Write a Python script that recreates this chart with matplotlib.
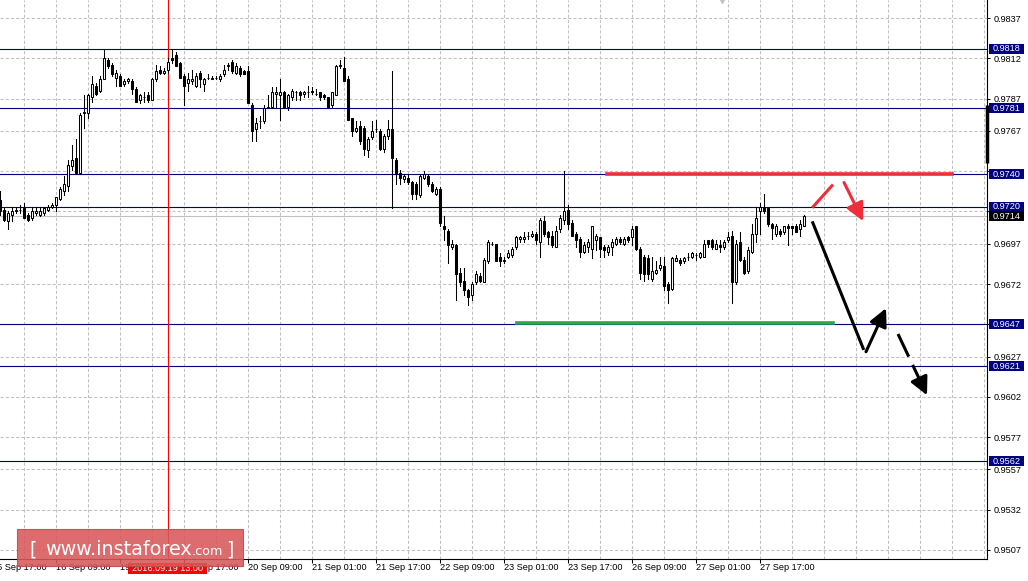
import matplotlib
matplotlib.use("Agg")
import matplotlib.pyplot as plt
from matplotlib.patches import Rectangle
from matplotlib.transforms import blended_transform_factory

plt.rcParams['font.family'] = ['Liberation Sans', 'DejaVu Sans']

# hourly candles (bar 0 = left edge)
opens = [.9724, .9718, .9711, .9715, .9717, .9718, .9719, .9715, .9713, .9716,
         .9715, .9716, .9718, .9720, .9721, .9725, .9730, .9733, .9745, .9750,
         .9741, .9778, .9778, .9788, .9795, .9792, .9799, .9811, .9808, .9800,
         .9801, .9796, .9798, .9798, .9793, .9786, .9788, .9789, .9786, .9799,
         .9805, .9803, .9805, .9812, .9814, .9809, .9801, .9797, .9798, .9795,
         .9803, .9796, .9800, .9799, .9800, .9799, .9802, .9807, .9810, .9803,
         .9806, .9804, .9804, .9783, .9768, .9773, .9773, .9781, .9782, .9790,
         .9789, .9791, .9782, .9788, .9791, .9791, .9790, .9791, .9792, .9790,
         .9791, .9789, .9788, .9783, .9789, .9807, .9806, .9799, .9775, .9767,
         .9770, .9769, .9755, .9763, .9768, .9767, .9756, .9764, .9768, .9749,
         .9741, .9737, .9738, .9735, .9734, .9727, .9738, .9739, .9734, .9728,
         .9731, .9708, .9705, .9695, .9696, .9679, .9674, .9668, .9665, .9673,
         .9677, .9673, .9686, .9697, .9697, .9689, .9686, .9689, .9690, .9695,
         .9700, .9700, .9702, .9702, .9703, .9698, .9711, .9704, .9702, .9695,
         .9706, .9712, .9718, .9710, .9703, .9700, .9692, .9695, .9694, .9699,
         .9701, .9695, .9692, .9695, .9697, .9700, .9697, .9701, .9701, .9708,
         .9694, .9689, .9688, .9675, .9679, .9682, .9683, .9672, .9669, .9686,
         .9687, .9686, .9689, .9689, .9690, .9689, .9689, .9699, .9699, .9694,
         .9696, .9695, .9699, .9702, .9673, .9698, .9687, .9680, .9692, .9703,
         .9717, .9720, .9719, .9709, .9703, .9705, .9704, .9708, .9708, .9708,
         .9706, .9708]
highs = [.9730, .9719, .9717, .9720, .9720, .9721, .9722, .9716, .9720, .9720,
         .9720, .9720, .9721, .9722, .9726, .9732, .9739, .9749, .9758, .9762,
         .9778, .9789, .9790, .9801, .9797, .9801, .9817, .9812, .9809, .9805,
         .9802, .9799, .9800, .9799, .9794, .9790, .9791, .9791, .9800, .9808,
         .9807, .9806, .9812, .9818, .9816, .9810, .9802, .9803, .9805, .9803,
         .9804, .9800, .9802, .9801, .9801, .9802, .9808, .9809, .9811, .9809,
         .9807, .9805, .9807, .9784, .9775, .9776, .9783, .9789, .9794, .9794,
         .9799, .9792, .9790, .9793, .9792, .9792, .9792, .9795, .9794, .9793,
         .9791, .9790, .9788, .9791, .9808, .9811, .9813, .9801, .9775, .9773,
         .9773, .9770, .9763, .9773, .9774, .9768, .9765, .9774, .9804, .9750,
         .9743, .9740, .9740, .9736, .9735, .9740, .9742, .9740, .9735, .9732,
         .9732, .9714, .9706, .9699, .9697, .9682, .9682, .9669, .9673, .9680,
         .9679, .9688, .9699, .9698, .9697, .9691, .9689, .9693, .9695, .9702,
         .9702, .9704, .9704, .9705, .9704, .9713, .9714, .9705, .9705, .9708,
         .9715, .9742, .9721, .9712, .9704, .9701, .9698, .9700, .9708, .9703,
         .9701, .9696, .9696, .9700, .9701, .9701, .9701, .9702, .9708, .9708,
         .9695, .9690, .9690, .9689, .9686, .9689, .9689, .9673, .9689, .9690,
         .9688, .9689, .9691, .9692, .9691, .9692, .9699, .9699, .9700, .9699,
         .9699, .9699, .9704, .9705, .9699, .9704, .9689, .9695, .9709, .9720,
         .9722, .9728, .9719, .9710, .9709, .9706, .9708, .9709, .9708, .9709,
         .9712, .9715]
lows = [.9715, .9711, .9706, .9711, .9716, .9716, .9713, .9711, .9712, .9715,
        .9714, .9715, .9717, .9719, .9717, .9724, .9727, .9730, .9743, .9740,
        .9740, .9769, .9775, .9785, .9789, .9791, .9799, .9806, .9801, .9795,
        .9795, .9795, .9797, .9790, .9785, .9784, .9785, .9785, .9786, .9798,
        .9802, .9802, .9803, .9809, .9807, .9800, .9783, .9792, .9796, .9794,
        .9794, .9792, .9799, .9799, .9799, .9798, .9801, .9805, .9803, .9802,
        .9801, .9802, .9784, .9761, .9761, .9769, .9772, .9781, .9781, .9782,
        .9774, .9781, .9780, .9786, .9786, .9786, .9788, .9788, .9790, .9789,
        .9786, .9787, .9782, .9782, .9789, .9806, .9798, .9774, .9764, .9766,
        .9759, .9752, .9751, .9762, .9766, .9755, .9754, .9762, .9719, .9734,
        .9734, .9735, .9734, .9725, .9725, .9726, .9737, .9733, .9729, .9727,
        .9708, .9699, .9685, .9694, .9662, .9671, .9665, .9659, .9662, .9672,
        .9673, .9673, .9685, .9696, .9686, .9683, .9685, .9688, .9689, .9694,
        .9698, .9698, .9700, .9701, .9697, .9689, .9702, .9697, .9695, .9695,
        .9704, .9709, .9706, .9702, .9695, .9689, .9691, .9692, .9688, .9693,
        .9689, .9689, .9690, .9690, .9696, .9697, .9696, .9698, .9696, .9693,
        .9675, .9674, .9675, .9674, .9678, .9681, .9668, .9660, .9668, .9686,
        .9684, .9685, .9687, .9688, .9687, .9688, .9689, .9695, .9694, .9694,
        .9692, .9694, .9698, .9660, .9672, .9686, .9678, .9679, .9691, .9698,
        .9703, .9716, .9708, .9700, .9702, .9702, .9703, .9696, .9703, .9704,
        .9702, .9708]
closes = [.9717, .9712, .9716, .9717, .9718, .9718, .9713, .9712, .9717, .9717,
          .9717, .9719, .9720, .9721, .9726, .9731, .9734, .9746, .9749, .9741,
          .9777, .9779, .9789, .9796, .9790, .9799, .9812, .9807, .9802, .9803,
          .9795, .9798, .9799, .9793, .9785, .9789, .9788, .9786, .9799, .9804,
          .9803, .9804, .9810, .9811, .9807, .9800, .9795, .9799, .9799, .9801,
          .9799, .9799, .9800, .9800, .9800, .9801, .9805, .9808, .9804, .9807,
          .9802, .9802, .9784, .9767, .9772, .9773, .9781, .9782, .9791, .9791,
          .9791, .9781, .9789, .9792, .9791, .9789, .9791, .9791, .9791, .9790,
          .9788, .9788, .9782, .9791, .9807, .9808, .9798, .9774, .9767, .9769,
          .9761, .9756, .9762, .9767, .9768, .9756, .9764, .9768, .9750, .9741,
          .9738, .9739, .9735, .9728, .9728, .9739, .9740, .9734, .9730, .9731,
          .9710, .9706, .9696, .9697, .9678, .9673, .9668, .9664, .9672, .9678,
          .9674, .9687, .9698, .9697, .9686, .9686, .9687, .9691, .9694, .9701,
          .9701, .9701, .9702, .9703, .9699, .9712, .9703, .9701, .9696, .9705,
          .9713, .9717, .9709, .9702, .9699, .9692, .9696, .9698, .9708, .9702,
          .9694, .9693, .9695, .9698, .9700, .9698, .9700, .9699, .9706, .9694,
          .9679, .9678, .9678, .9680, .9681, .9684, .9671, .9668, .9688, .9688,
          .9685, .9688, .9689, .9691, .9690, .9691, .9697, .9697, .9695, .9697,
          .9695, .9698, .9701, .9673, .9697, .9687, .9679, .9693, .9703, .9713,
          .9720, .9717, .9709, .9707, .9708, .9703, .9708, .9707, .9707, .9704,
          .9709, .9714]

time_ticks = [-2, 14, 30, 46, 62, 78, 94, 110, 126, 142, 158, 174, 190]
time_labels = ['15 Sep 17:00', '16 Sep 09:00', '19 Sep 01:00', '19 Sep 17:00',
               '20 Sep 09:00', '21 Sep 01:00', '21 Sep 17:00', '22 Sep 09:00',
               '23 Sep 01:00', '23 Sep 17:00', '26 Sep 09:00', '27 Sep 01:00',
               '27 Sep 17:00']
price_ticks = [0.9837, 0.9812, 0.9787, 0.9767, 0.9742, 0.9717, 0.9697, 0.9672,
               0.9647, 0.9627, 0.9602, 0.9577, 0.9557, 0.9532, 0.9507]
hidden_ticks = [0.9742, 0.9717, 0.9647]
levels = [0.9818, 0.9781, 0.9740, 0.9720, 0.9647, 0.9621, 0.9562]
bid = 0.9714
cursor_bar = 42
cursor_text = '2016.09.19 13:00'

# forecast drawing (bar index, price)
resist_x, resist_y = [151.75, 238.0], [0.9740, 0.9740]
support_x, support_y = [129.25, 208.25], [0.9648, 0.9648]
red_leg_x, red_leg_y = [203.3, 208.0], [0.9720, 0.9733]
red_arrow = [(211.0, 0.9735), (215.8, 0.9711)]
black_leg_x, black_leg_y = [203.2, 215.8], [0.9710, 0.9632]
black_arrow = [(216.5, 0.9630), (221.5, 0.9657)]
dash_arrow = [(224.5, 0.9641), (231.75, 0.9603)]

W, H = 1028, 581
fs = 6.6
fig = plt.figure(figsize=(W / 100, H / 100), dpi=100)
ax = fig.add_axes([0, 22 / H, 987 / W, 559 / H])
ax.set_xlim(0, 246.75)
ax.set_ylim(0.95014, 0.98482)
grid_kw = dict(color='#c0c0c0', lw=0.75, dashes=(3, 2), zorder=0)
for p in price_ticks:
    ax.axhline(p, **grid_kw)
for g in range(-2, 247, 8):
    ax.axvline(g, **grid_kw)

for p in levels:
    ax.axhline(p, color='#000080', lw=0.8, zorder=1)
ax.axhline(bid, color='#c0c0c0', lw=0.8, zorder=1)
ax.axvline(cursor_bar, color='#ff0000', lw=0.8, zorder=1)

for i in range(len(opens)):
    o, h, l, c = opens[i], highs[i], lows[i], closes[i]
    ax.plot([i, i], [l, h], color='black', lw=0.75, zorder=3)
    fc = 'white' if c >= o else 'black'
    ax.add_patch(Rectangle((i - 0.25, min(o, c)), 0.5, abs(c - o),
                           fc=fc, ec='black', lw=0.75, zorder=4))

ax.plot(resist_x, resist_y, color='#ec2f3a', lw=2.6, zorder=5)
ax.plot(support_x, support_y, color='#2aa650', lw=2.6, zorder=5)
ax.plot(red_leg_x, red_leg_y, color='#ec2f3a', lw=2.2, zorder=5)
ax.plot(black_leg_x, black_leg_y, color='black', lw=2.2, zorder=5)
head = '-|>,head_length=0.6,head_width=0.3'
ax.annotate('', xy=red_arrow[1], xytext=red_arrow[0], zorder=5,
            arrowprops=dict(arrowstyle=head, mutation_scale=18, lw=2.2,
                            color='#ec2f3a', shrinkA=0, shrinkB=0))
ax.annotate('', xy=black_arrow[1], xytext=black_arrow[0], zorder=5,
            arrowprops=dict(arrowstyle=head, mutation_scale=18, lw=2.2,
                            color='black', shrinkA=0, shrinkB=0))
(x0, y0), (x1, y1) = dash_arrow
f = 0.78
ax.plot([x0, x0 + (x1 - x0) * f], [y0, y0 + (y1 - y0) * f], color='black',
        lw=2.2, dashes=(8.2, 3), zorder=5)
ax.annotate('', xy=(x1, y1), xytext=(x0 + (x1 - x0) * 0.74, y0 + (y1 - y0) * 0.74),
            zorder=5, arrowprops=dict(arrowstyle=head, mutation_scale=18, lw=2.2,
                                      color='black', shrinkA=0, shrinkB=0))

# odd bar on the right border
ax.plot([246.75, 246.75], [0.9747, 0.9783], color='black', lw=2.5,
        solid_capstyle='butt', clip_on=False, zorder=6)
ax.plot([180.5], [0.98482], marker='v', ms=5, color='#c0c0c0', clip_on=False)

for s in ['left', 'top']:
    ax.spines[s].set_visible(False)
for s in ['right', 'bottom']:
    ax.spines[s].set_linewidth(0.8)
ax.yaxis.tick_right()
ax.set_yticks(price_ticks)
ax.set_yticklabels(['' if p in hidden_ticks else '%.4f' % p for p in price_ticks])
ax.tick_params(axis='y', length=2.5, width=0.75, pad=2, labelsize=fs)
ax.set_xticks(time_ticks[1:])
ax.set_xticklabels([])
ax.tick_params(axis='x', length=3, width=0.75)

tx = blended_transform_factory(ax.transData, ax.transAxes)
for t, lab in zip(time_ticks, time_labels):
    ax.text(t, -0.0075, lab, transform=tx, ha='left', va='top', fontsize=fs,
            clip_on=False, zorder=6)
ax.add_patch(Rectangle((32, -0.0268), 19.75, 0.0196, transform=tx, fc='#ff0000',
                       ec='none', clip_on=False, zorder=7))
ax.text(cursor_bar, -0.0172, cursor_text, transform=tx, ha='center', va='center',
        fontsize=fs, color='white', clip_on=False, zorder=8)

ty = blended_transform_factory(ax.transAxes, ax.transData)
boxes = [(p, '#000080') for p in levels] + [(bid, 'black')]
for p, col in boxes:
    ax.add_patch(Rectangle((989 / 987, p - 0.00031), 35 / 987, 0.00062, transform=ty,
                           fc=col, ec='none', clip_on=False, zorder=7))
    ax.text(993 / 987, p, '%.4f' % p, transform=ty, ha='left', va='center',
            fontsize=fs, color='white', clip_on=False, zorder=8)

# watermark
fig.add_artist(Rectangle((17 / W, 1 - 566 / H), 226 / W, 37 / H, transform=fig.transFigure,
                         fc='#d9585a', ec='#b84a4a', lw=0.8, alpha=0.88))
logo = dict(color='white', family='DejaVu Sans', va='baseline')
fig.text(29 / W, 1 - 556 / H, '[', fontsize=13.5, **logo)
fig.text(45 / W, 1 - 555 / H, 'www.instaforex', fontsize=13.8, **logo)
fig.text(192 / W, 1 - 555 / H, '.com', fontsize=9.2, **logo)
fig.text(226 / W, 1 - 556 / H, ']', fontsize=13.5, **logo)

fig.savefig('out.png', dpi=100)
